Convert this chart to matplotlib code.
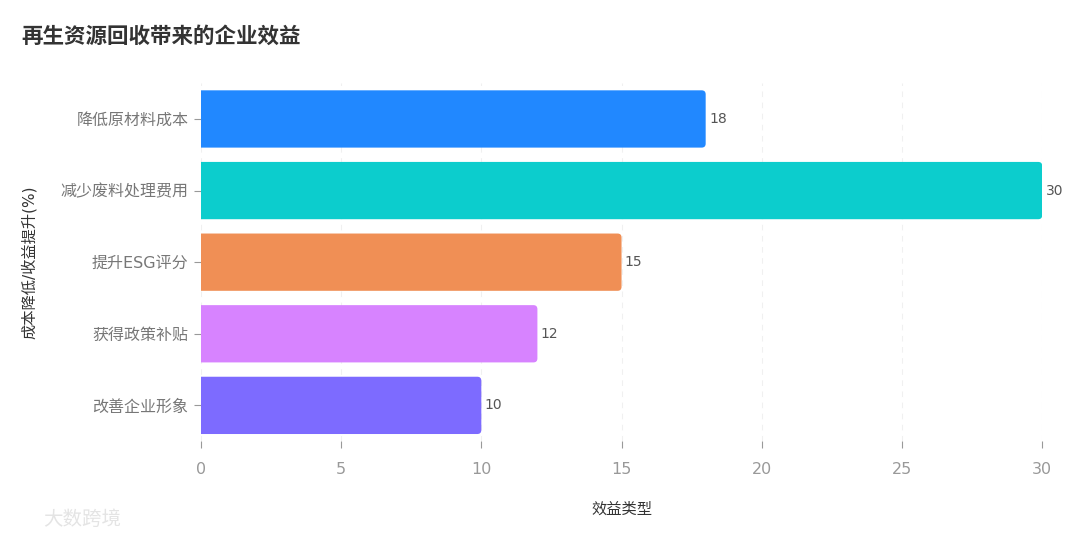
import matplotlib
matplotlib.use("Agg")
import matplotlib.pyplot as plt
from matplotlib.patches import FancyBboxPatch

plt.rcParams['font.family'] = ['DejaVu Sans', 'Noto Sans CJK SC']

categories = ["降低原材料成本", "减少废料处理费用", "提升ESG评分", "获得政策补贴", "改善企业形象"]
values = [18, 30, 15, 12, 10]
colors = ["#2188FF", "#0CCDCD", "#F08F55", "#D783FF", "#7D6BFF"]
xticks = [0, 5, 10, 15, 20, 25, 30]

fig = plt.figure(figsize=(10.8, 5.4), dpi=100)
ax = fig.add_axes([0.186, 0.183, 0.779, 0.663])

ypos = list(range(len(categories)))
bar_h = 0.8
ax.set_xlim(0, 30)
ax.set_ylim(len(categories) - 0.5, -0.5)

# rounded bars, left side clipped by the axes so it stays square
px_x = 0.779 * 1080 / 30
px_y = 0.663 * 540 / len(categories)
r = 4 / px_x
for y, v, c in zip(ypos, values, colors):
    p = FancyBboxPatch((-0.5, y - bar_h / 2), v + 0.5, bar_h,
                       boxstyle=f"round,pad=0,rounding_size={r}",
                       mutation_aspect=px_x / px_y,
                       facecolor=c, edgecolor="none", zorder=3)
    ax.add_patch(p)
    ax.text(v + 0.12, y, str(v), va="center", ha="left", fontsize=10, color="#555555")

ax.set_yticks(ypos)
ax.set_yticklabels(categories, fontsize=11.5, color="#777777")
ax.set_xticks(xticks)
ax.set_xticklabels([str(t) for t in xticks], fontsize=11.5, color="#999999")
ax.tick_params(axis="both", colors="#999999", length=5)
ax.tick_params(axis="y", labelcolor="#777777", pad=4)
ax.tick_params(axis="x", labelcolor="#999999", pad=10)

for s in ax.spines.values():
    s.set_visible(False)
ax.grid(axis="x", linestyle=(0, (5, 5)), color="#F0F0F0", linewidth=0.8, zorder=0)
ax.set_axisbelow(True)

ax.set_xlabel("效益类型", fontsize=11, color="#333333", labelpad=18)
ax.set_ylabel("成本降低/收益提升(%)", fontsize=11, color="#333333", labelpad=17)

fig.text(0.020, 0.933, "再生资源回收带来的企业效益", fontsize=15.5, fontweight="bold", color="#333333", ha="left", va="center")
fig.text(0.040, 0.038, "大数跨境", fontsize=14, color="#E4E4E4", ha="left", va="center")

fig.savefig("out.png", dpi=100)
